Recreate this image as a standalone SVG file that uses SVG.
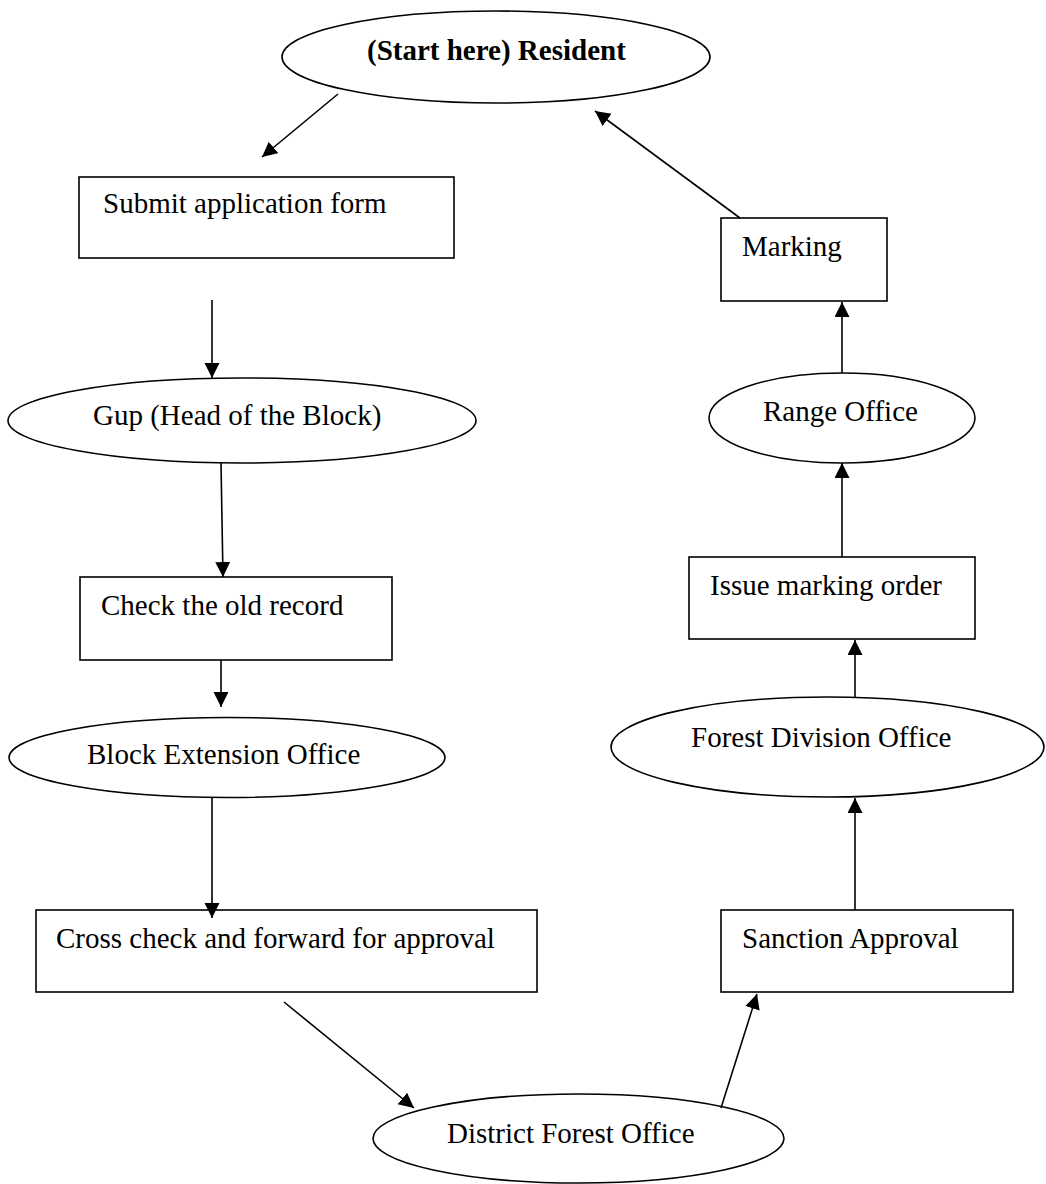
<svg xmlns="http://www.w3.org/2000/svg" width="1046" height="1184" viewBox="0 0 1046 1184">
<defs>
<style>
.shape{fill:#fff;stroke:#000;stroke-width:1.6}
.lbl{font-family:"Liberation Serif","Times New Roman",serif;font-size:29px;fill:#000}
.bold{font-weight:bold}
.conn line{stroke:#000;stroke-width:1.6;marker-end:url(#ah)}
</style>
<marker id="ah" markerUnits="userSpaceOnUse" markerWidth="16" markerHeight="16" refX="15" refY="7.5" orient="auto">
<path d="M0,0 L15,7.5 L0,15 z" fill="#000"/>
</marker>
</defs>
<rect width="1046" height="1184" fill="#fff"/>
<g id="resident"><ellipse class="shape" cx="496" cy="57" rx="214" ry="46"/><text class="lbl bold" x="367" y="60">(Start here) Resident</text></g>
<g id="submit"><rect class="shape" x="79" y="177" width="375" height="81"/><text class="lbl" x="103" y="213">Submit application form</text></g>
<g id="gup"><ellipse class="shape" cx="242" cy="420.5" rx="234" ry="42.5"/><text class="lbl" x="93" y="425">Gup (Head of the Block)</text></g>
<g id="check"><rect class="shape" x="80" y="577" width="312" height="83"/><text class="lbl" x="101" y="615">Check the old record</text></g>
<g id="blockext"><ellipse class="shape" cx="227" cy="757.5" rx="218" ry="40"/><text class="lbl" x="87" y="764">Block Extension Office</text></g>
<g id="crosscheck"><rect class="shape" x="36" y="910" width="501" height="82"/><text class="lbl" x="56" y="948">Cross check and forward for approval</text></g>
<g id="district"><ellipse class="shape" cx="578.5" cy="1138.5" rx="205.5" ry="44.5"/><text class="lbl" x="447" y="1143">District Forest Office</text></g>
<g id="sanction"><rect class="shape" x="721" y="910" width="292" height="82"/><text class="lbl" x="742" y="948">Sanction Approval</text></g>
<g id="forestdiv"><ellipse class="shape" cx="827.5" cy="747" rx="216.5" ry="50"/><text class="lbl" x="691" y="747">Forest Division Office</text></g>
<g id="issue"><rect class="shape" x="689" y="557" width="286" height="82"/><text class="lbl" x="710" y="595">Issue marking order</text></g>
<g id="range"><ellipse class="shape" cx="842" cy="418" rx="133" ry="45"/><text class="lbl" x="763" y="421">Range Office</text></g>
<g id="marking"><rect class="shape" x="721" y="218" width="166" height="83"/><text class="lbl" x="742" y="256">Marking</text></g>
<g id="connectors" class="conn">
<line x1="338" y1="94" x2="262" y2="157"/>
<line x1="212" y1="300" x2="212" y2="378"/>
<line x1="221" y1="463" x2="223" y2="577"/>
<line x1="221" y1="660" x2="221" y2="707"/>
<line x1="212" y1="797" x2="212" y2="918"/>
<line x1="284" y1="1002" x2="414" y2="1108"/>
<line x1="721" y1="1108" x2="757" y2="994"/>
<line x1="855" y1="910" x2="855" y2="798"/>
<line x1="855" y1="697" x2="855" y2="640"/>
<line x1="842" y1="557" x2="842" y2="463"/>
<line x1="842" y1="373" x2="842" y2="302"/>
<line x1="740" y1="218" x2="595" y2="111"/>
</g>
</svg>
